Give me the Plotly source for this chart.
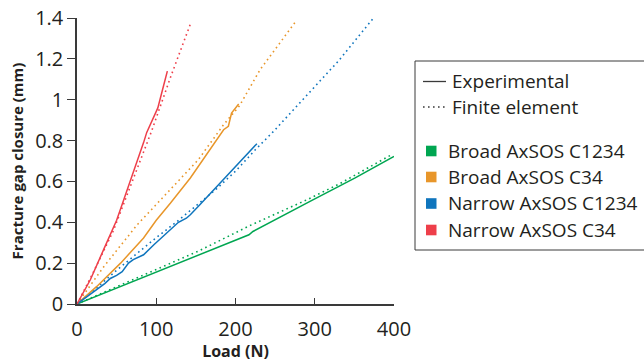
import plotly.graph_objects as go

# ---------------- data ----------------
series_names = ["Broad AxSOS C1234", "Broad AxSOS C34", "Narrow AxSOS C1234", "Narrow AxSOS C34"]
series_colors = ["#00a651", "#e8962a", "#0f75bd", "#ee3f4a"]

# Experimental (solid)
broad_c1234_exp_x = [0, 50, 100, 155, 200, 217, 222, 269, 294, 351, 400]
broad_c1234_exp_y = [0, 0.078, 0.155, 0.241, 0.31, 0.339, 0.355, 0.453, 0.502, 0.617, 0.722]
broad_c34_exp_x = [0, 25, 55, 84, 100, 118, 143, 165, 185, 191, 195, 204]
broad_c34_exp_y = [0, 0.086, 0.2, 0.323, 0.41, 0.494, 0.617, 0.74, 0.853, 0.87, 0.935, 0.979]
narrow_c1234_exp_x = [0, 25, 35, 42, 50, 57, 65, 71, 84, 97, 118, 128, 138, 143, 155, 180, 200, 227]
narrow_c1234_exp_y = [0, 0.07, 0.1, 0.125, 0.14, 0.158, 0.2, 0.217, 0.241, 0.29, 0.364, 0.4, 0.42, 0.437, 0.486, 0.59, 0.673, 0.785]
narrow_c34_exp_x = [0, 17, 34, 50, 59, 72, 84, 88, 95, 102, 108, 114]
narrow_c34_exp_y = [0, 0.12, 0.27, 0.41, 0.51, 0.65, 0.79, 0.84, 0.9, 0.96, 1.05, 1.14]

# Finite element (dotted)
broad_c1234_fe_x = [0, 50, 100, 155, 216, 290, 332, 397]
broad_c1234_fe_y = [0, 0.085, 0.17, 0.262, 0.38, 0.51, 0.59, 0.731]
broad_c34_fe_x = [0, 34, 76, 114, 153, 185, 205, 231, 277]
broad_c34_fe_y = [0, 0.184, 0.388, 0.543, 0.706, 0.878, 0.97, 1.147, 1.388]
narrow_c1234_fe_x = [0, 25, 50, 75, 100, 125, 150, 175, 200, 225, 248, 285, 330, 373]
narrow_c1234_fe_y = [0, 0.08, 0.165, 0.245, 0.325, 0.4, 0.48, 0.56, 0.65, 0.755, 0.845, 1.0, 1.19, 1.395]
narrow_c34_fe_x = [0, 20, 46, 59, 75, 94, 118, 144]
narrow_c34_fe_y = [0, 0.15, 0.36, 0.49, 0.65, 0.845, 1.11, 1.38]

exp_x = [broad_c1234_exp_x, broad_c34_exp_x, narrow_c1234_exp_x, narrow_c34_exp_x]
exp_y = [broad_c1234_exp_y, broad_c34_exp_y, narrow_c1234_exp_y, narrow_c34_exp_y]
fe_x = [broad_c1234_fe_x, broad_c34_fe_x, narrow_c1234_fe_x, narrow_c34_fe_x]
fe_y = [broad_c1234_fe_y, broad_c34_fe_y, narrow_c1234_fe_y, narrow_c34_fe_y]

x_ticks = [0, 100, 200, 300, 400]
y_ticks = [0, 0.2, 0.4, 0.6, 0.8, 1, 1.2, 1.4]
y_tick_labels = ["0", "0.2", "0.4", "0.6", "0.8", "1", "1.2", "1.4"]
style_names = ["Experimental", "Finite element"]

# ---------------- figure ----------------
W, H = 644, 362
ML, MR, MT, MB = 77, 250, 18, 58
PW, PH = W - ML - MR, H - MT - MB
TXT = "#231f20"
FONT = "Open Sans"
DOT = "1.6px,3.4px"

fig = go.Figure()
for i in range(4):
    fig.add_trace(go.Scatter(x=fe_x[i], y=fe_y[i], mode="lines",
                             line=dict(color=series_colors[i], width=1.6, dash=DOT),
                             showlegend=False, hoverinfo="skip"))
for i in range(4):
    fig.add_trace(go.Scatter(x=exp_x[i], y=exp_y[i], mode="lines",
                             line=dict(color=series_colors[i], width=1.5),
                             showlegend=False, hoverinfo="skip"))


def px_x(px):
    return (px - ML) / PW


def px_y(py):
    return (H - MB - py) / PH


shapes = []
annotations = []
# legend frame
shapes.append(dict(type="rect", xref="paper", yref="paper",
                   x0=px_x(415), x1=px_x(700), y0=px_y(250), y1=px_y(61),
                   line=dict(color="#3a3a3a", width=1), fillcolor="rgba(0,0,0,0)"))
# style rows
style_rows_y = [81.5, 107]
style_dash = ["solid", DOT]
for name, yy, dsh in zip(style_names, style_rows_y, style_dash):
    shapes.append(dict(type="line", xref="paper", yref="paper",
                       x0=px_x(423), x1=px_x(446), y0=px_y(yy), y1=px_y(yy),
                       line=dict(color="#3a3a3a", width=1.3, dash=dsh)))
    annotations.append(dict(xref="paper", yref="paper", x=px_x(450), y=px_y(yy),
                            text=name, showarrow=False, xanchor="left", yanchor="middle",
                            font=dict(family=FONT, size=19, color=TXT)))
# series rows
series_rows_y = [151, 177, 203.5, 230]
for name, col, yy in zip(series_names, series_colors, series_rows_y):
    shapes.append(dict(type="rect", xref="paper", yref="paper",
                       x0=px_x(426), x1=px_x(436.5), y0=px_y(yy + 5.3), y1=px_y(yy - 5.3),
                       line=dict(width=0), fillcolor=col))
    annotations.append(dict(xref="paper", yref="paper", x=px_x(446), y=px_y(yy),
                            text=name, showarrow=False, xanchor="left", yanchor="middle",
                            font=dict(family=FONT, size=19, color=TXT)))

fig.update_layout(
    width=W, height=H,
    margin=dict(l=ML, r=MR, t=MT, b=MB, pad=0),
    paper_bgcolor="white", plot_bgcolor="white",
    showlegend=False,
    font=dict(family=FONT, color=TXT),
    shapes=shapes, annotations=annotations,
    xaxis=dict(range=[0, 400], tickvals=x_ticks, ticks="inside", ticklen=6,
               tickwidth=1.3, tickcolor="#3a3a3a", ticklabelstandoff=6,
               automargin=False,
               showline=True, linecolor="#3a3a3a", linewidth=1.5, showgrid=False,
               zeroline=False, tickfont=dict(family=FONT, size=20, color=TXT),
               title=dict(text="<b>Load (N)</b>", standoff=4,
                          font=dict(family=FONT, size=16, color=TXT))),
    yaxis=dict(range=[0, 1.4], tickvals=y_ticks, ticktext=y_tick_labels,
               ticks="outside", ticklen=8, tickwidth=1.3, tickcolor="#3a3a3a",
               automargin=False,
               showline=True, linecolor="#3a3a3a", linewidth=1.5, showgrid=False,
               zeroline=False, tickfont=dict(family=FONT, size=20, color=TXT),
               title=dict(text="<b>Fracture gap closure (mm)</b>", standoff=8,
                          font=dict(family=FONT, size=15, color=TXT))),
)

fig.write_html("out.html")
